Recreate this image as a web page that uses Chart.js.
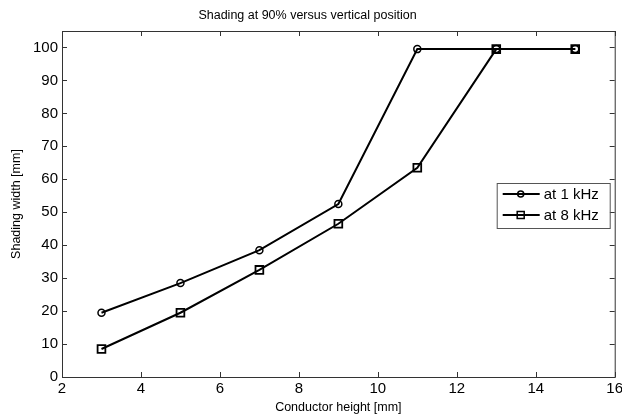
<!DOCTYPE html>
<html>
<head>
<meta charset="utf-8">
<script src="https://cdn.jsdelivr.net/npm/chart.js@4.4.1/dist/chart.umd.min.js"></script>
<style>
  html, body { margin: 0; padding: 0; background: #fff; }
</style>
</head>
<body>
<canvas id="chart" width="622" height="417"></canvas>
<script>
// values
const heights = [3, 5, 7, 9, 11, 13, 15];
const shading1kHz = [19.5, 28.5, 38.5, 52.5, 99.5, 99.5, 99.5];
const shading8kHz = [8.5, 19.5, 32.5, 46.5, 63.5, 99.5, 99.5];
const seriesNames = ['at 1 kHz', 'at 8 kHz'];
const xTicks = [2, 4, 6, 8, 10, 12, 14, 16];
const yTicks = [0, 10, 20, 30, 40, 50, 60, 70, 80, 90, 100];
const titleText = 'Shading at 90% versus vertical position';
const xTitle = 'Conductor height [mm]';
const yTitle = 'Shading width [mm]';

const FONT = 'Arial, "Liberation Sans", sans-serif';

function toPoints(xs, ys) {
    return xs.map((x, i) => ({ x: x, y: ys[i] }));
}

// box round the axes, with ticks pointing inward like matlab
const boxPlugin = {
    id: 'box',
    afterDraw(chart) {
        const ctx = chart.ctx;
        const a = chart.chartArea;
        const xs = chart.scales.x, ys = chart.scales.y;
        const len = 5;
        ctx.save();
        ctx.strokeStyle = '#333';
        ctx.lineWidth = 1;
        ctx.strokeRect(a.left + 0.5, a.top + 0.5, a.right - a.left, a.bottom - a.top);
        ctx.beginPath();
        xs.ticks.forEach(t => {
            const px = Math.round(xs.getPixelForValue(t.value)) + 0.5;
            ctx.moveTo(px, a.bottom); ctx.lineTo(px, a.bottom - len);
            ctx.moveTo(px, a.top); ctx.lineTo(px, a.top + len);
        });
        ys.ticks.forEach(t => {
            const py = Math.round(ys.getPixelForValue(t.value)) + 0.5;
            ctx.moveTo(a.left, py); ctx.lineTo(a.left + len, py);
            ctx.moveTo(a.right, py); ctx.lineTo(a.right - len, py);
        });
        ctx.stroke();

        // legend
        const lw = 113, lh = 45;
        const lx = a.right - 118, ly = a.top + 152;
        ctx.fillStyle = '#fff';
        ctx.fillRect(lx, ly, lw, lh);
        ctx.strokeStyle = '#555';
        ctx.strokeRect(lx + 0.5, ly + 0.5, lw, lh);
        chart.data.datasets.forEach((ds, i) => {
            const cy = ly + 11 + i * 21;
            ctx.strokeStyle = '#000';
            ctx.lineWidth = 2;
            ctx.beginPath();
            ctx.moveTo(lx + 6, cy); ctx.lineTo(lx + 43, cy);
            ctx.stroke();
            ctx.lineWidth = 1.5;
            ctx.beginPath();
            if (ds.pointStyle === 'circle') {
                ctx.arc(lx + 24, cy, 3, 0, Math.PI * 2);
            } else {
                ctx.rect(lx + 20.5, cy - 3.5, 7, 7);
            }
            ctx.stroke();
            ctx.fillStyle = '#000';
            ctx.font = '15px ' + FONT;
            ctx.textBaseline = 'middle';
            ctx.textAlign = 'left';
            ctx.fillText(ds.label, lx + 47, cy + 1);
        });
        ctx.restore();
    }
};

const ctx = document.getElementById('chart').getContext('2d');

new Chart(ctx, {
    type: 'scatter',
    data: {
        datasets: [{
            label: seriesNames[0],
            data: toPoints(heights, shading1kHz),
            showLine: true,
            borderColor: '#000',
            borderWidth: 2,
            pointStyle: 'circle',
            pointRadius: 3.5,
            pointBorderWidth: 1.5,
            pointBorderColor: '#000',
            pointBackgroundColor: 'rgba(0,0,0,0)'
        }, {
            label: seriesNames[1],
            data: toPoints(heights, shading8kHz),
            showLine: true,
            borderColor: '#000',
            borderWidth: 2,
            pointStyle: 'rect',
            pointRadius: 5.5,
            pointBorderWidth: 1.8,
            pointBorderColor: '#000',
            pointBackgroundColor: 'rgba(0,0,0,0)'
        }]
    },
    options: {
        responsive: false,
        animation: false,
        devicePixelRatio: 1,
        layout: { padding: { left: 0, right: 7, top: 0, bottom: 0 } },
        plugins: {
            legend: { display: false },
            tooltip: { enabled: false },
            title: {
                display: true,
                text: titleText,
                color: '#000',
                font: { size: 12.5, weight: 'normal', family: FONT },
                padding: { top: 8, bottom: 8 }
            }
        },
        scales: {
            x: {
                type: 'linear',
                min: 2,
                max: 16,
                grid: { display: false, drawTicks: false },
                border: { display: false },
                ticks: {
                    color: '#000',
                    padding: 3,
                    font: { size: 15, family: FONT }
                },
                afterBuildTicks(scale) {
                    scale.ticks = xTicks.map(v => ({ value: v }));
                },
                title: {
                    display: true,
                    text: xTitle,
                    color: '#000',
                    font: { size: 12.5, family: FONT },
                    padding: { top: 0, bottom: 2 }
                },
                afterFit(scale) {
                    scale.height = 40;
                    scale.paddingLeft = 0;
                    scale.paddingRight = 0;
                }
            },
            y: {
                type: 'linear',
                min: 0,
                max: 105,
                grid: { display: false, drawTicks: false },
                border: { display: false },
                ticks: {
                    color: '#000',
                    padding: 4,
                    font: { size: 15, family: FONT }
                },
                afterBuildTicks(scale) {
                    scale.ticks = yTicks.map(v => ({ value: v }));
                },
                title: {
                    display: true,
                    text: yTitle,
                    color: '#000',
                    font: { size: 12.5, family: FONT },
                    padding: { top: 9, bottom: 0 }
                },
                afterFit(scale) {
                    scale.width = 62;
                    scale.paddingTop = 0;
                    scale.paddingBottom = 0;
                }
            }
        }
    },
    plugins: [boxPlugin]
});
</script>
</body>
</html>
